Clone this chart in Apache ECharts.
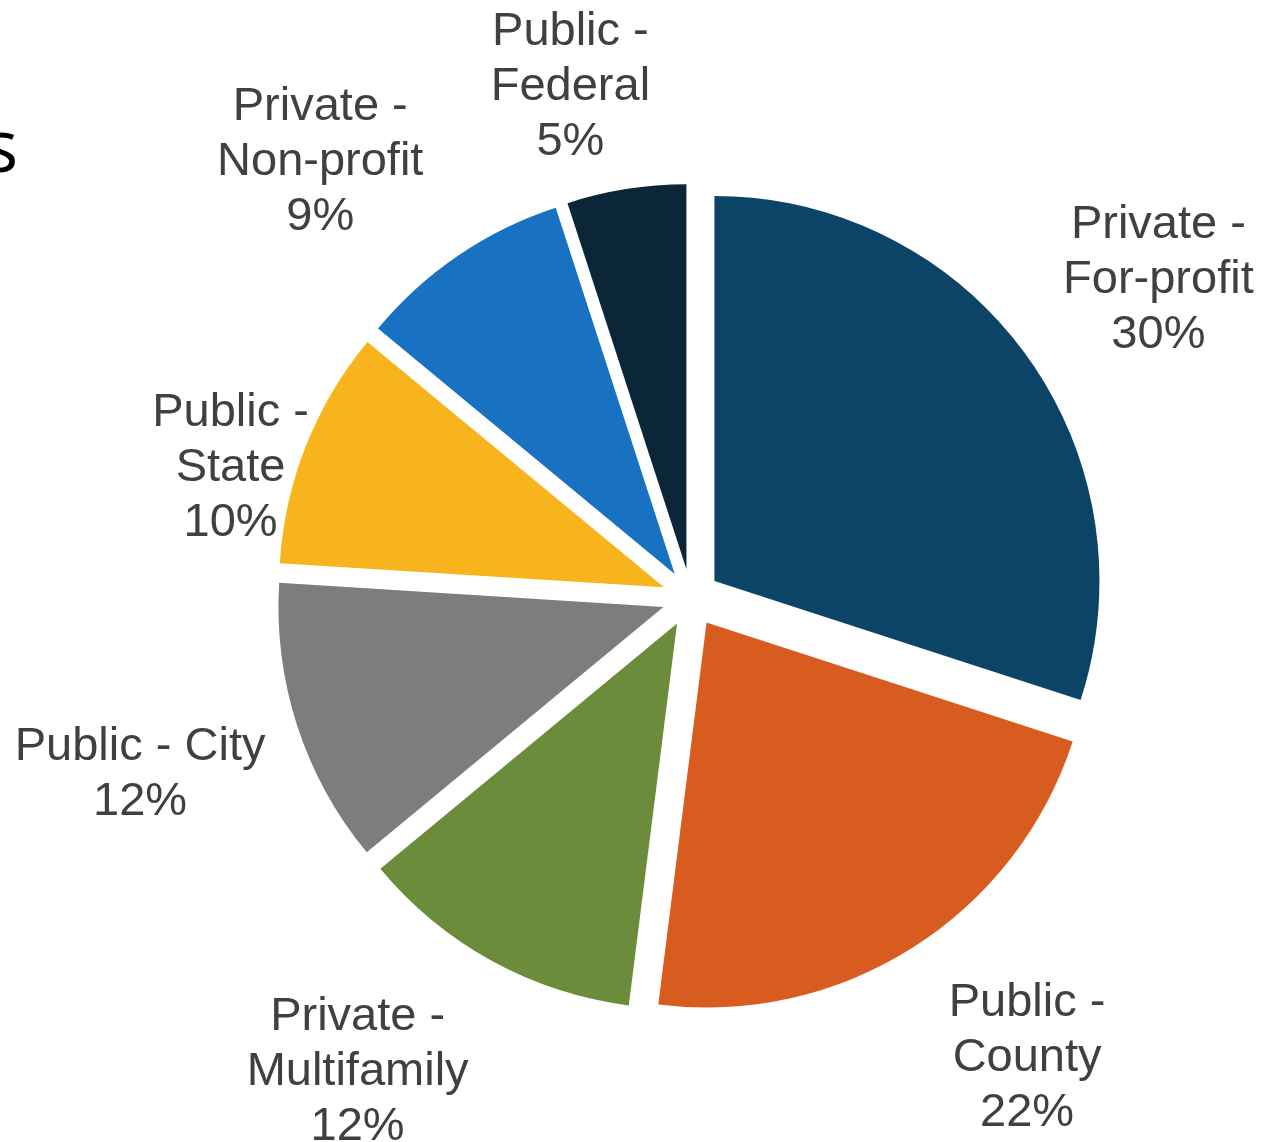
<!DOCTYPE html>
<html>
<head>
<meta charset="utf-8">
<script src="https://cdn.jsdelivr.net/npm/echarts@6/dist/echarts.min.js"></script>
<style>
  html, body { margin: 0; padding: 0; background: #ffffff; }
  #chart { width: 1264px; height: 1142px; }
</style>
</head>
<body>
<div id="chart"></div>
<script>
// Ownership categories, clockwise from 12 o'clock
const categories = [
  'Private -\nFor-profit',
  'Public -\nCounty',
  'Private -\nMultifamily',
  'Public - City',
  'Public -\nState',
  'Private -\nNon-profit',
  'Public -\nFederal'
];
// Share of each owner type (%)
const shares = [30, 22, 12, 12, 10, 9, 5];

// Slice fills
const sliceColors = ['#0b4466', '#d85c1f', '#6a8c3b', '#7c7d7c', '#f7b41c', '#1872c1', '#0b2539'];
// Spacing between each slice rim and its label, plus a small per-label nudge [dx, dy]
const labelGaps = [27, 40, 36, 28, -36, 34, 20];
const labelNudges = [[9, 15], [33, -18], [-56, -30], [-1, -2], [-13, 47], [-48, 39], [-38, 10]];

const CX = 691, CY = 598, RADIUS = 385, EXPLODE = 29;
const FONT_SIZE = 47, LINE_HEIGHT = 55;
const FONT_FAMILY = '"Liberation Sans", Arial, sans-serif';

const labelText = i => categories[i] + '\n' + shares[i] + '%';

// Measure each label block so it can sit just outside its slice
const measureCtx = document.createElement('canvas').getContext('2d');
measureCtx.font = FONT_SIZE + 'px ' + FONT_FAMILY;
function blockSize(text) {
  const lines = text.split('\n');
  const w = Math.max(...lines.map(l => measureCtx.measureText(l).width));
  return { w: w, h: lines.length * LINE_HEIGHT };
}

const total = shares.reduce((a, b) => a + b, 0);
const midAngles = [];
let acc = 0;
shares.forEach(v => {
  midAngles.push((acc + v / 2) / total * 2 * Math.PI);
  acc += v;
});

const chart = echarts.init(document.getElementById('chart'), null, { renderer: 'canvas' });

chart.setOption({
  backgroundColor: '#ffffff',
  animation: false,
  graphic: [{
    type: 'text',
    left: -17,
    top: 114,
    style: {
      text: 's',
      fontFamily: 'Open Sans',
      fontSize: 74,
      fill: '#000000'
    }
  }],
  series: [
    {
      // exploded slices
      type: 'pie',
      center: [CX, CY],
      radius: RADIUS,
      startAngle: 90,
      clockwise: true,
      selectedMode: 'multiple',
      selectedOffset: EXPLODE,
      emphasis: { disabled: true },
      itemStyle: { borderWidth: 0 },
      label: { show: false },
      labelLine: { show: false },
      data: shares.map((v, i) => ({
        name: categories[i],
        value: v,
        selected: true,
        itemStyle: { color: sliceColors[i] }
      }))
    },
    {
      // category labels placed outside each slice
      type: 'pie',
      center: [CX, CY],
      radius: RADIUS,
      startAngle: 90,
      clockwise: true,
      silent: true,
      avoidLabelOverlap: false,
      emphasis: { disabled: true },
      itemStyle: { color: 'rgba(0,0,0,0)', borderWidth: 0 },
      label: {
        show: true,
        position: 'outside',
        formatter: p => labelText(p.dataIndex),
        fontFamily: FONT_FAMILY,
        fontSize: FONT_SIZE,
        lineHeight: LINE_HEIGHT,
        color: '#404040',
        align: 'center'
      },
      labelLine: { show: false },
      labelLayout: function (params) {
        const i = params.dataIndex;
        const a = midAngles[i];
        const ux = Math.sin(a), uy = -Math.cos(a);
        const sz = blockSize(labelText(i));
        const support = sz.w / 2 * Math.abs(ux) + sz.h / 2 * Math.abs(uy);
        const d = RADIUS + EXPLODE + labelGaps[i] + support;
        return {
          x: CX + ux * d + labelNudges[i][0],
          y: CY + uy * d + labelNudges[i][1],
          align: 'center',
          verticalAlign: 'middle'
        };
      },
      data: shares.map((v, i) => ({ name: categories[i], value: v }))
    }
  ]
});
</script>
</body>
</html>
